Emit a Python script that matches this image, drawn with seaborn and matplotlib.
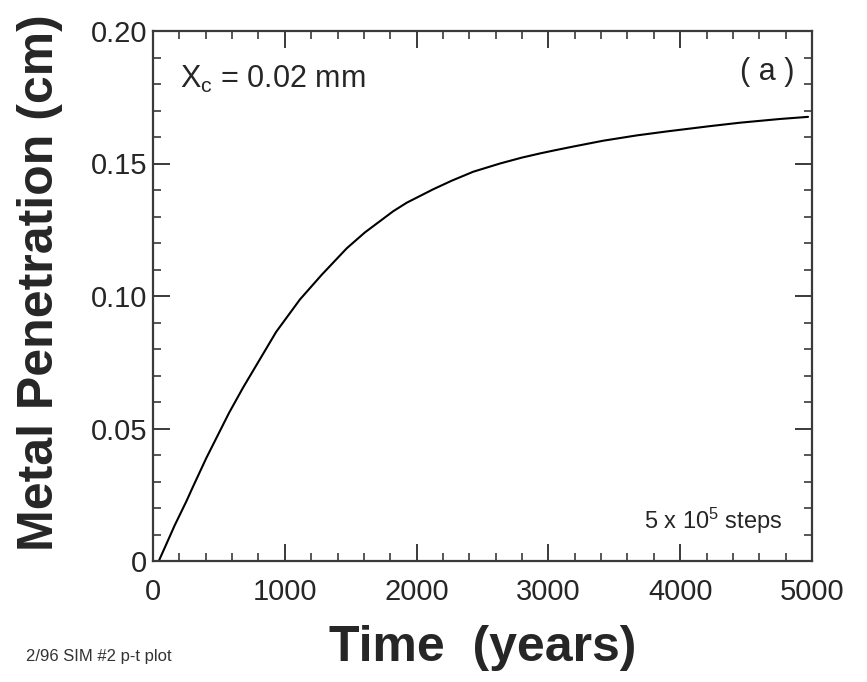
import matplotlib
matplotlib.use("Agg")
import matplotlib.pyplot as plt
import seaborn as sns
import pandas as pd
from matplotlib.ticker import MultipleLocator, FixedLocator, FixedFormatter

# ---- data ----
time_years = [44, 89, 165, 253, 303, 404, 577, 683, 935, 1115, 1280, 1470, 1608,
              1823, 1925, 2127, 2266, 2430, 2633, 2797, 2936, 3050, 3189, 3416,
              3670, 3898, 4226, 4454, 4757, 4970]
penetration_cm = [0.0, 0.0050, 0.0135, 0.0225, 0.0280, 0.0388, 0.0559, 0.0654,
                  0.0865, 0.0987, 0.1080, 0.1180, 0.1240, 0.1320, 0.1352, 0.1403,
                  0.1435, 0.1469, 0.1500, 0.1522, 0.1538, 0.1550, 0.1564, 0.1586,
                  0.1606, 0.1621, 0.1641, 0.1654, 0.1668, 0.1676]
x_ticks = [0, 1000, 2000, 3000, 4000, 5000]
x_tick_labels = ["0", "1000", "2000", "3000", "4000", "5000"]
y_ticks = [0, 0.05, 0.10, 0.15, 0.20]
y_tick_labels = ["0", "0.05", "0.10", "0.15", "0.20"]

df = pd.DataFrame({"time": time_years, "pen": penetration_cm})

sns.set_style("ticks")
plt.rcParams["font.family"] = ["Liberation Sans", "DejaVu Sans"]
plt.rcParams["mathtext.fontset"] = "custom"
plt.rcParams["mathtext.rm"] = "Liberation Sans"
plt.rcParams["mathtext.it"] = "Liberation Sans"

W, H = 867, 682
fig = plt.figure(figsize=(W / 100, H / 100), dpi=100)
L, R, T, B = 153, 812, 31, 561
ax = fig.add_axes([L / W, (H - B) / H, (R - L) / W, (B - T) / H])

sns.lineplot(data=df, x="time", y="pen", ax=ax, color="black", linewidth=1.5)

ax.set_xlim(0, 5000)
ax.set_ylim(0, 0.20)
ax.xaxis.set_major_locator(FixedLocator(x_ticks))
ax.xaxis.set_major_formatter(FixedFormatter(x_tick_labels))
ax.xaxis.set_minor_locator(MultipleLocator(200))
ax.yaxis.set_major_locator(FixedLocator(y_ticks))
ax.yaxis.set_major_formatter(FixedFormatter(y_tick_labels))
ax.yaxis.set_minor_locator(MultipleLocator(0.01))

spine_col = "#3a3a3a"
for s in ax.spines.values():
    s.set_visible(True)
    s.set_linewidth(1.6)
    s.set_color(spine_col)

ax.tick_params(which="both", direction="in", top=True, right=True, color=spine_col)
ax.tick_params(which="major", length=12, width=1.4)
ax.tick_params(which="minor", length=6, width=1.2)
ax.tick_params(axis="x", which="major", labelsize=21, pad=12)
ax.tick_params(axis="y", which="major", labelsize=21, pad=4)

ax.set_xlabel("Time  (years)", fontsize=36, fontweight="bold", labelpad=14)
ax.set_ylabel("Metal Penetration (cm)", fontsize=36, fontweight="bold")
ax.yaxis.set_label_coords(-0.137, 0.525)

ax.text(0.041, 0.892, r"X$_{\mathregular{c}}$ = 0.02 mm", transform=ax.transAxes,
        fontsize=22, ha="left", va="baseline")
ax.text(0.974, 0.923, "( a )", transform=ax.transAxes, fontsize=22,
        ha="right", va="center")
ax.text(0.956, 0.075, r"5 x 10$^{\mathregular{5}}$ steps", transform=ax.transAxes,
        fontsize=17, ha="right", va="center")

fig.text(172 / W, 1 - 657 / H, "2/96 SIM #2 p-t plot", fontsize=12,
         ha="right", va="center", color="#333333")

fig.savefig("out.png", dpi=100)
